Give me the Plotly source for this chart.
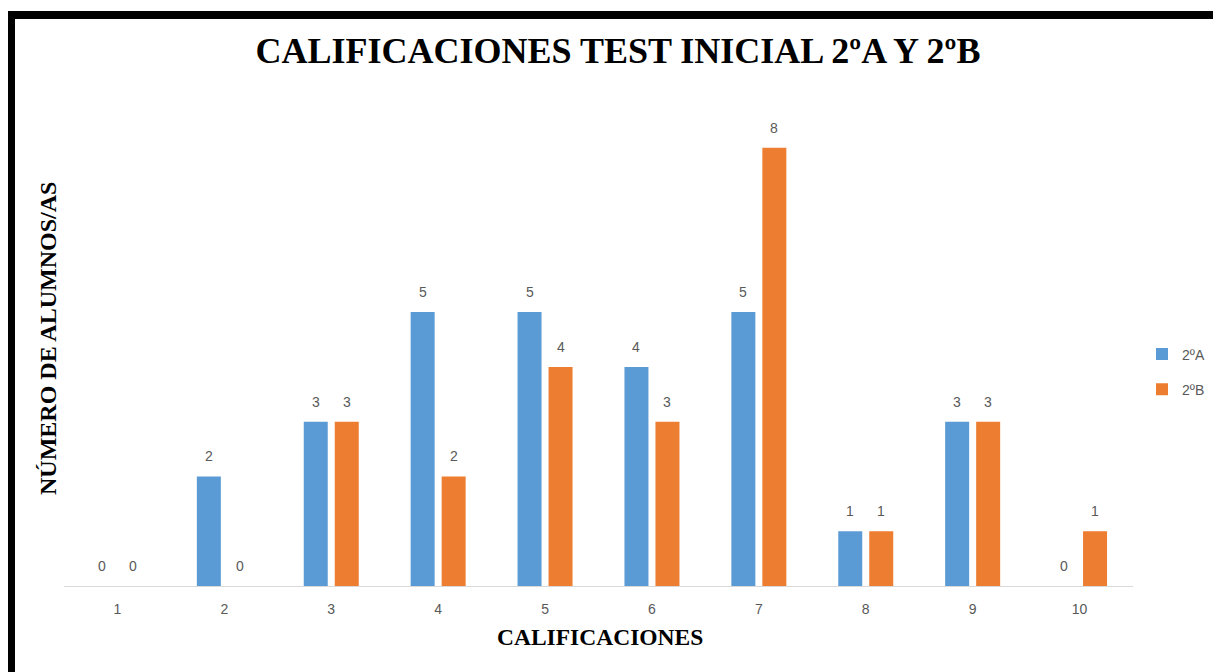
import plotly.graph_objects as go

categorias = ["1", "2", "3", "4", "5", "6", "7", "8", "9", "10"]
grupo_a = [0, 2, 3, 5, 5, 4, 5, 1, 3, 0]
grupo_b = [0, 0, 3, 2, 4, 3, 8, 1, 3, 1]
nombres = ["2ºA", "2ºB"]
colores = ["#5B9BD5", "#ED7D31"]

# page has 8px body margin; figure coordinates = page coordinates - 8
OFF = 8
W, H = 1221 - OFF, 672 - OFF
ML = 64 - OFF
MT = 93 - OFF
PLOT_BOTTOM = 586 - OFF
PLOT_RIGHT = 1133 - OFF
MB = H - PLOT_BOTTOM
MR = W - PLOT_RIGHT
pw = W - ML - MR
ph = H - MT - MB


def px_x(p):
    return (p - OFF - ML) / pw


def px_y(p):
    return (PLOT_BOTTOM - (p - OFF)) / ph


fig = go.Figure()
for serie, nombre, color in zip([grupo_a, grupo_b], nombres, colores):
    fig.add_trace(go.Bar(
        x=categorias, y=serie, name=nombre, marker_color=color,
        marker_line_width=0, legendgroup=nombre,
    ))

annotations = []
offset = 15.5
for serie, sign in zip([grupo_a, grupo_b], [-1, 1]):
    for i, v in enumerate(serie):
        annotations.append(dict(
            x=i, y=v, xref="x", yref="y", text=str(v), showarrow=False,
            xshift=sign * offset, yshift=20, yanchor="middle",
            font=dict(family="Liberation Sans", size=14, color="#595959"),
        ))

annotations.append(dict(
    text="NÚMERO DE ALUMNOS/AS", textangle=-90, showarrow=False,
    xref="paper", yref="paper", x=px_x(48), y=px_y(339),
    xanchor="center", yanchor="middle",
    font=dict(family="Liberation Serif", size=24, color="#000000", weight="bold"),
))
annotations.append(dict(
    text="CALIFICACIONES", showarrow=False,
    xref="paper", yref="paper", x=px_x(600), y=px_y(637),
    xanchor="center", yanchor="middle",
    font=dict(family="Liberation Serif", size=23.5, color="#000000", weight="bold"),
))

shapes = [
    dict(type="rect", xref="paper", yref="paper",
         x0=px_x(7), x1=px_x(15), y0=px_y(680), y1=px_y(11),
         fillcolor="#000000", line=dict(width=0)),
    dict(type="rect", xref="paper", yref="paper",
         x0=px_x(7), x1=px_x(1230), y0=px_y(19), y1=px_y(11),
         fillcolor="#000000", line=dict(width=0)),
]

fig.update_layout(
    width=W, height=H,
    margin=dict(l=ML, r=MR, t=MT, b=MB, autoexpand=False),
    paper_bgcolor="#ffffff", plot_bgcolor="#ffffff",
    barmode="group", bargap=0.42, bargroupgap=0.226,
    title=dict(
        text="CALIFICACIONES TEST INICIAL 2ºA Y 2ºB",
        x=(618 - OFF) / W, xanchor="center", y=1 - (50 - OFF) / H, yanchor="middle",
        font=dict(family="Liberation Serif", size=36, color="#000000", weight="bold"),
    ),
    xaxis=dict(
        showgrid=False, showline=True, linecolor="#d9d9d9", linewidth=1,
        ticks="outside", ticklen=10, tickcolor="rgba(0,0,0,0)",
        tickfont=dict(family="Liberation Sans", size=14, color="#595959"),
        zeroline=False,
    ),
    yaxis=dict(
        range=[0, 9], showgrid=False, showticklabels=False, zeroline=False,
        showline=False, ticks="",
    ),
    legend=dict(
        x=px_x(1142), xanchor="left", y=px_y(372), yanchor="middle",
        font=dict(family="Liberation Sans", size=14, color="#595959"),
        tracegroupgap=14, bgcolor="rgba(0,0,0,0)",
    ),
    annotations=annotations,
    shapes=shapes,
    showlegend=True,
)

fig.write_html("out.html")
